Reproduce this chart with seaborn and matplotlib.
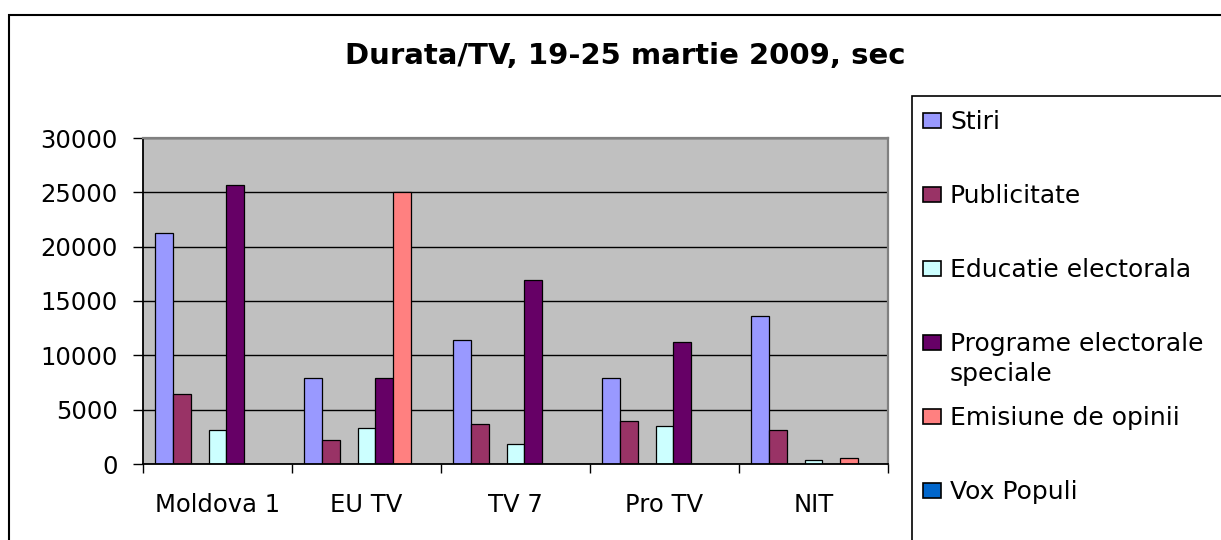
import matplotlib
matplotlib.use("Agg")
import pandas as pd
import seaborn as sns
import matplotlib.pyplot as plt
from matplotlib.patches import Rectangle

# data (seconds per channel)
channels = ["Moldova 1", "EU TV", "TV 7", "Pro TV", "NIT"]
stiri = [21300, 7900, 11400, 7900, 13600]
publicitate = [6400, 2200, 3700, 4000, 3100]
serie_3 = [0, 0, 0, 0, 0]          # empty third series, not in the legend
educatie = [3100, 3300, 1800, 3500, 350]
programe = [25700, 7900, 16900, 11200, 0]
emisiune = [0, 25000, 0, 0, 550]
vox_populi = [0, 0, 0, 0, 0]

series_names = ["Stiri", "Publicitate", "Serie 3", "Educatie electorala",
                "Programe electorale speciale", "Emisiune de opinii", "Vox Populi"]
series_values = [stiri, publicitate, serie_3, educatie, programe, emisiune, vox_populi]
colors = ["#9999FF", "#993366", "#FFFFCC", "#CCFFFF", "#660066", "#FF8080", "#0066CC"]
legend_labels = ["Stiri", "Publicitate", None, "Educatie electorala",
                 "Programe electorale\nspeciale", "Emisiune de opinii", "Vox Populi"]

rows = []
for name, vals in zip(series_names, series_values):
    for ch, v in zip(channels, vals):
        rows.append({"tv": ch, "serie": name, "sec": v})
df = pd.DataFrame(rows)

W, H = 1221, 540


def fx(px):
    return px / W


def fy(py):
    return 1 - py / H


sns.set_style("white")
plt.rcParams["font.family"] = ["DejaVu Sans"]
plt.rcParams["text.color"] = "black"
plt.rcParams["xtick.color"] = "black"
plt.rcParams["ytick.color"] = "black"
plt.rcParams["axes.labelcolor"] = "black"

fig = plt.figure(figsize=(W / 100, H / 100), dpi=100)
ax = fig.add_axes([fx(143), fy(464), fx(888) - fx(143), fy(138) - fy(464)])
ax.set_facecolor("#C0C0C0")

sns.barplot(
    data=df, x="tv", y="sec", hue="serie",
    order=channels, hue_order=series_names,
    palette=dict(zip(series_names, colors)), saturation=1,
    width=0.84, edgecolor="black", linewidth=0.9,
    errorbar=None, legend=False, ax=ax,
)

ax.set_xlim(-0.5, len(channels) - 0.5)
ax.set_ylim(0, 30000)
ax.set_yticks(range(0, 30001, 5000))
ax.set_xlabel("")
ax.set_ylabel("")

ax.set_axisbelow(True)
ax.yaxis.grid(True, color="black", linewidth=1)
ax.xaxis.grid(False)

for side in ["top", "right"]:
    ax.spines[side].set_color("#808080")
    ax.spines[side].set_linewidth(1.6)
for side in ["left", "bottom"]:
    ax.spines[side].set_color("black")
    ax.spines[side].set_linewidth(1.3)

ax.tick_params(axis="y", direction="out", length=7, width=1, pad=11,
               labelsize=17.5, colors="black", left=True)
ax.tick_params(axis="x", which="major", length=0, pad=21, labelsize=17.5,
               colors="black")
ax.set_xticks([i - 0.5 for i in range(len(channels) + 1)], minor=True)
ax.tick_params(axis="x", which="minor", direction="out", length=6.5, width=1,
               bottom=True, colors="black")

# title
fig.text(fx(625), fy(64), "Durata/TV, 19-25 martie 2009, sec",
         ha="center", va="baseline", fontsize=21, fontweight="bold", color="black")

# outer chart frame (cut at right and bottom)
fig.patches.append(Rectangle((fx(9), -0.1), 1.2, fy(15) + 0.1, transform=fig.transFigure,
                             fill=False, edgecolor="black", linewidth=1.5, clip_on=False))

# legend frame
fig.patches.append(Rectangle((fx(912), -0.1), 1.0, fy(96) + 0.1, transform=fig.transFigure,
                             fill=False, edgecolor="black", linewidth=1.2, clip_on=False))

# legend entries, evenly spaced like the Excel legend
y_center = 120
for label, col in zip(legend_labels, colors):
    if label is None:
        continue
    fig.patches.append(Rectangle((fx(923), fy(y_center + 7.5)), fx(941) - fx(923),
                                 fy(y_center - 7.5) - fy(y_center + 7.5),
                                 transform=fig.transFigure, facecolor=col,
                                 edgecolor="black", linewidth=1.2))
    fig.text(fx(950), fy(y_center - 10), label, ha="left", va="top",
             fontsize=18, linespacing=1.3, color="black")
    y_center += 74

fig.savefig("out.png", dpi=100)
